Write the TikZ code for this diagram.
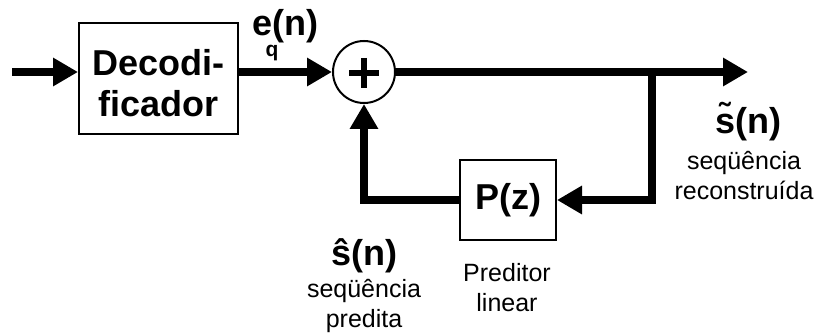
\documentclass[tikz,border=0pt]{standalone}
\usepackage{fontspec}
\setmainfont{Liberation Sans}
\usetikzlibrary{arrows.meta}
\begin{document}
\begin{tikzpicture}[x=1pt,y=-1pt,
  blockbox/.style={draw, line width=2pt, inner sep=0pt},
  sig/.style={line width=8pt, line join=miter, -{Triangle[length=25pt,width=27pt]}},
  bigtext/.style={font=\fontsize{36}{41}\selectfont\bfseries, inner sep=0pt},
  smalltext/.style={font=\fontsize{25}{30}\selectfont, inner sep=0pt, align=center},
]
\useasboundingbox (0,0) rectangle (814,334);

% blocks (multi-line texts are placed by the baseline of their last line)
\node[blockbox, minimum width=159pt, minimum height=111pt] (dec) at (158.5,78.5) {};
\node[bigtext, align=center, anchor=base] (dectext) at (158.5,117) {Decodi-\\ficador};
\node[draw, circle, line width=2pt, minimum size=62pt, inner sep=0pt] (sum) at (364,72) {};
\node[blockbox, minimum width=96pt, minimum height=80pt, font=\fontsize{36}{41}\selectfont\bfseries] (pz) at (508,200) {P(z)};

% plus sign in the adder
\draw[line width=6pt] (sum.center) ++(-15,1) -- ++(30,0);
\draw[line width=6pt] (sum.center) ++(0,-14) -- ++(0,30);

% points of the signal path
\coordinate (in) at (12,72);
\coordinate (out) at (748,72);
\coordinate (branch) at (652,72);

% connectors
\draw[sig] (in) -- (in -| dec.west);
\draw[sig] (dec.east |- sum) -- (sum.west);
\draw[sig] (sum.east) -- (out);
\draw[sig] (branch) -- (branch |- pz) -- (pz.east);
\draw[sig] (pz.west) -- (sum |- pz) -- (sum.south);

% labels
\node[bigtext, anchor=base] (eq) at (285,36) {e\makebox[0pt][c]{\raisebox{-21pt}{\fontsize{21}{21}\selectfont q}}(n)};
\node[bigtext, anchor=base] (stil) at (748,134) {\~s(n)};
\node[smalltext, anchor=base] (stiltext) at (744,199) {seqüência\\reconstruída};
\node[bigtext, anchor=base] (shat) at (364,265) {\^s(n)};
\node[smalltext, anchor=base] (shattext) at (364,327) {seqüência\\predita};
\node[smalltext, anchor=base] (pztext) at (507,311) {Preditor\\linear};
\end{tikzpicture}
\end{document}
